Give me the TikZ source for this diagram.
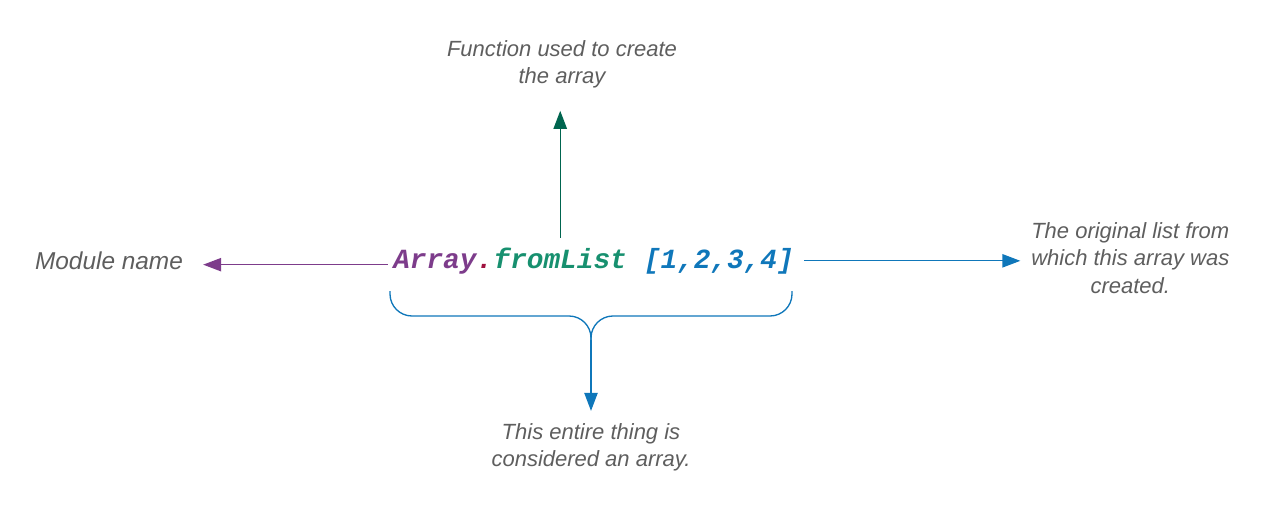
\documentclass[tikz,border=0pt]{standalone}
\usepackage{fontspec}
\setmainfont{Liberation Sans}
\setmonofont{Liberation Mono}
\usepackage{xcolor}
\usepackage{tikz}
\usetikzlibrary{positioning,arrows.meta}

\definecolor{modcol}{HTML}{7D3C8B}
\definecolor{dotcol}{HTML}{A0123F}
\definecolor{fncol}{HTML}{17906F}
\definecolor{fnarrow}{HTML}{00654F}
\definecolor{lstcol}{HTML}{0F77BA}
\definecolor{textcol}{HTML}{5E5E5E}

\begin{document}
\begin{tikzpicture}[
  x=0.75pt, y=-0.75pt,
  every node/.style={inner sep=0pt, text=textcol},
  note/.style={align=center, font=\fontsize{16.5}{20.4}\selectfont\itshape},
  code/.style={font=\fontsize{20.8}{24}\selectfont\ttfamily\bfseries\itshape},
  >={Triangle[length=13.5pt,width=10pt]},
  conn/.style={line width=1pt, ->},
  brace/.style={line width=1pt, draw=lstcol, rounded corners=16.5pt}
]
\useasboundingbox (0,0) rectangle (1268,510);

% code line
\node[code, anchor=base west, text=modcol] (mod) at (393,268) {Array\textcolor{dotcol}{.}};
\node[code, base right=0pt of mod, text=fncol] (fn) {fromList};
\node[code, base right=12.5pt of fn, text=lstcol] (lst) {[1,2,3,4]};

% labels
\node[note, font=\fontsize{18.3}{22}\selectfont\itshape] (modlabel) at (109,261) {Module name};
\node[note] (fnlabel) at (562,64) {Function used to create\\the array};
\node[note, anchor=west] (lstlabel) at (1031,258) {The original list from\\which this array was\\created.};
\node[note] (arrlabel) at (591,447) {This entire thing is\\considered an array.};

% brace
\coordinate (bl) at (390,291);
\coordinate (br) at (792,291);
\coordinate (mid) at (591,316);
\coordinate (tip) at (591,340);
\draw[brace] (bl) |- (mid) -- (tip);
\draw[brace] (br) |- (mid) -- (tip);

% connectors
\draw[conn, modcol, shorten <=3.8pt, shorten >=15pt] ([yshift=2.5pt]mod.base west) -- ([yshift=2.5pt]mod.base west -| modlabel.east);
\draw[conn, fnarrow, shorten <=7pt, shorten >=17pt] (fn.north) -- (fn.north |- fnlabel.south);
\draw[conn, lstcol, shorten <=7.5pt, shorten >=8pt] (lst.east) -- (lst.east -| lstlabel.west);
\draw[conn, lstcol, shorten >=9pt] (tip) -- (tip |- arrlabel.north);

\end{tikzpicture}
\end{document}
